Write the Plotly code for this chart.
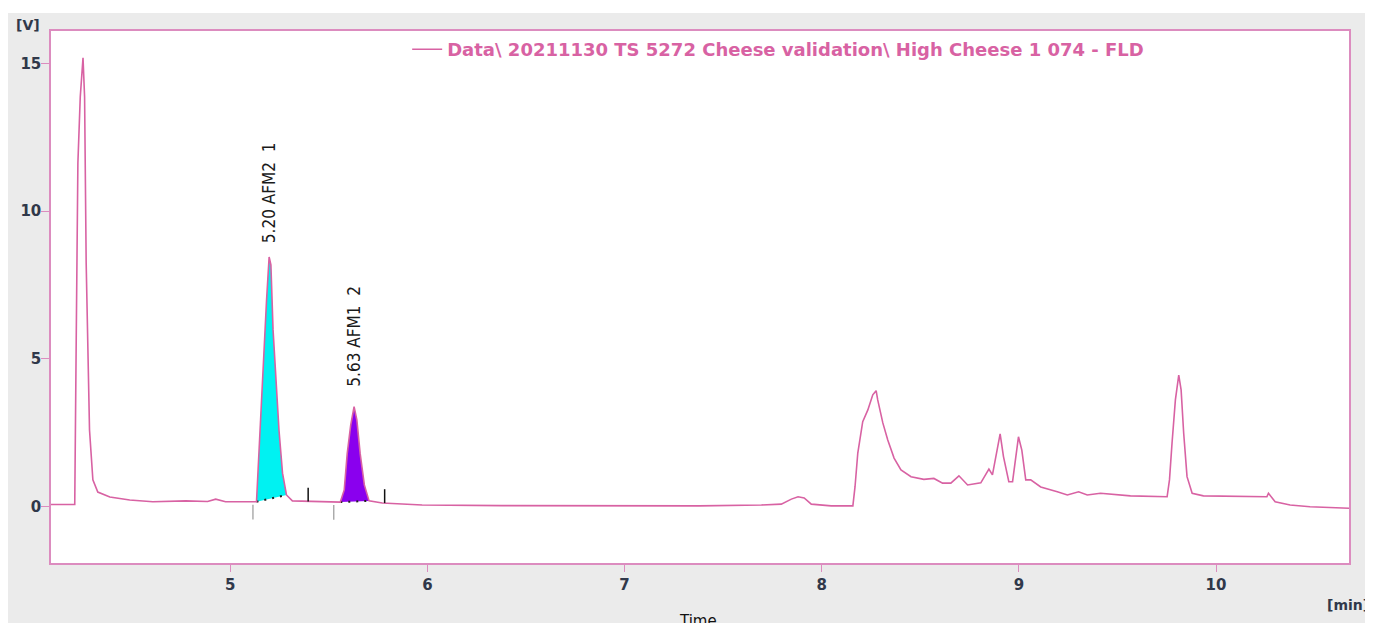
import plotly.graph_objects as go

# ---- data ----
time_min = [4.090, 4.211, 4.219, 4.227, 4.239, 4.253, 4.261, 4.269, 4.286, 4.303,
            4.328, 4.389, 4.490, 4.607, 4.774, 4.885, 4.926, 4.976, 5.133, 5.143,
            5.167, 5.184, 5.197, 5.206, 5.217, 5.229, 5.247, 5.265, 5.285, 5.315,
            5.467, 5.558, 5.578, 5.593, 5.611, 5.628, 5.642, 5.659, 5.680, 5.704,
            5.771, 5.973, 6.378, 6.884, 7.378, 7.694, 7.795, 7.846, 7.880, 7.911,
            7.947, 8.048, 8.158, 8.169, 8.183, 8.208, 8.234, 8.259, 8.276, 8.284,
            8.310, 8.335, 8.367, 8.402, 8.453, 8.518, 8.569, 8.613, 8.655, 8.696,
            8.740, 8.807, 8.848, 8.866, 8.905, 8.922, 8.949, 8.968, 8.998, 9.015,
            9.035, 9.060, 9.111, 9.195, 9.246, 9.303, 9.347, 9.414, 9.566, 9.752,
            9.764, 9.777, 9.794, 9.811, 9.823, 9.836, 9.853, 9.879, 9.936, 10.258,
            10.266, 10.300, 10.376, 10.477, 10.675]
signal_v = [0.07, 0.07, 5.98, 11.63, 13.87, 15.19, 13.87, 8.25, 2.59, 0.90,
            0.49, 0.32, 0.22, 0.16, 0.19, 0.17, 0.25, 0.16, 0.16, 1.57,
            4.52, 6.99, 8.45, 8.18, 5.98, 4.52, 2.59, 1.13, 0.39, 0.19,
            0.15, 0.15, 0.56, 1.78, 2.76, 3.38, 2.93, 1.78, 0.73, 0.19,
            0.12, 0.05, 0.03, 0.02, 0.02, 0.05, 0.08, 0.25, 0.33, 0.29,
            0.08, 0.02, 0.02, 0.67, 1.81, 2.87, 3.27, 3.78, 3.92, 3.61,
            2.83, 2.25, 1.64, 1.24, 1.01, 0.92, 0.95, 0.79, 0.79, 1.04,
            0.73, 0.80, 1.27, 1.07, 2.46, 1.69, 0.84, 0.84, 2.36, 1.91,
            0.90, 0.90, 0.66, 0.50, 0.39, 0.50, 0.39, 0.45, 0.36, 0.33,
            0.90, 2.15, 3.61, 4.45, 3.95, 2.49, 1.01, 0.45, 0.36, 0.33,
            0.45, 0.16, 0.05, -0.01, -0.06]

peak_rt = [5.20, 5.63]
peak_name = ["AFM2", "AFM1"]
peak_num = [1, 2]
peak_height = [8.45, 3.38]
peak_start = [5.133, 5.558]
peak_end = [5.285, 5.704]
start_marks = [5.115, 5.525]
end_marks = [5.395, 5.783]

x_ticks = [5, 6, 7, 8, 9, 10]
y_ticks = [0, 5, 10, 15]
series_name = "Data\\ 20211130 TS 5272 Cheese validation\\ High Cheese 1 074 - FLD"

# ---- styles ----
LINE = "#d862a3"
BORDER = "#dc8cbf"
TXT = "#30384a"
fills = ["#00f2f2", "#8a00ee"]
label_shift = [12, 18]

fig = go.Figure()


def baseline_at(t):
    for i in range(len(time_min) - 1):
        if time_min[i] <= t <= time_min[i + 1]:
            f = (t - time_min[i]) / (time_min[i + 1] - time_min[i])
            return signal_v[i] + f * (signal_v[i + 1] - signal_v[i])
    return 0.0


for k in range(len(peak_rt)):
    idx = [i for i, t in enumerate(time_min) if peak_start[k] <= t <= peak_end[k]]
    xs = [time_min[i] for i in idx]
    ys = [signal_v[i] for i in idx]
    fig.add_trace(go.Scatter(x=xs, y=ys, fill="toself", fillcolor=fills[k],
                             mode="lines", line=dict(width=0, color=fills[k]),
                             showlegend=False, hoverinfo="skip"))
    fig.add_trace(go.Scatter(x=[xs[0], xs[-1]], y=[ys[0], ys[-1]], mode="lines",
                             line=dict(color="#222222", width=2, dash="2px,6px"),
                             showlegend=False, hoverinfo="skip"))

fig.add_trace(go.Scatter(x=time_min, y=signal_v, mode="lines", name=series_name,
                         line=dict(color=LINE, width=1.6)))

# peak start / end markers
ex, ey = [], []
for t in end_marks:
    b = baseline_at(t)
    ex += [t, t, None]
    ey += [b, b + 0.47, None]
fig.add_trace(go.Scatter(x=ex, y=ey, mode="lines", line=dict(color="#111111", width=1.5),
                         showlegend=False, hoverinfo="skip"))
sx, sy = [], []
for t in start_marks:
    b = baseline_at(t)
    sx += [t, t, None]
    sy += [b - 0.1, b - 0.6, None]
fig.add_trace(go.Scatter(x=sx, y=sy, mode="lines", line=dict(color="#999999", width=1.2),
                         showlegend=False, hoverinfo="skip"))

annotations = []
for k in range(len(peak_rt)):
    annotations.append(dict(x=peak_rt[k], y=peak_height[k], xref="x", yref="y",
                            text=f"{peak_rt[k]:.2f} {peak_name[k]}\u00a0 {peak_num[k]}",
                            textangle=-90, showarrow=False, xanchor="center",
                            yanchor="bottom", yshift=label_shift[k],
                            font=dict(family="Liberation Sans Narrow, DejaVu Sans Condensed, Arial Narrow, sans-serif",
                                      size=17, color="#1a1a1a")))

annotations += [
    dict(x=-0.0177, y=1.0113, xref="paper", yref="paper", text="[V]", showarrow=False,
         xanchor="center", yanchor="middle", font=dict(family="DejaVu Sans", size=14, color=TXT, weight="bold")),
    dict(x=0.9992, y=-0.079, xref="paper", yref="paper", text="[min]", showarrow=False,
         xanchor="center", yanchor="middle", font=dict(family="DejaVu Sans", size=14, color=TXT, weight="bold")),
    dict(x=0.4988, y=-0.0883, xref="paper", yref="paper", text="Time", showarrow=False,
         xanchor="center", yanchor="top", font=dict(family="DejaVu Sans", size=15, color="#111111")),
]

# white strip above the grey panel (page body margin supplies the left/top 8px)
shapes = [
    dict(type="rect", xref="paper", yref="paper", x0=-0.05, x1=1.05, y0=1.0338, y1=1.05,
         fillcolor="white", line=dict(width=0), layer="above"),
]

fig.update_layout(
    width=1365, height=615,
    margin=dict(l=40, r=24, t=23, b=60),
    paper_bgcolor="#ebebeb",
    plot_bgcolor="white",
    showlegend=True,
    legend=dict(x=0.2744, y=1.0, xanchor="left", yanchor="top", bgcolor="rgba(0,0,0,0)",
                font=dict(family="DejaVu Sans", size=18, color=LINE, weight="bold"), itemwidth=30),
    annotations=annotations,
    shapes=shapes,
)
fig.update_xaxes(range=[4.0906, 10.6746], tickvals=x_ticks, ticks="outside", ticklen=7,
                 tickcolor=BORDER, showgrid=False, zeroline=False, showline=True,
                 linecolor=BORDER, linewidth=1.5, mirror=True,
                 tickfont=dict(family="DejaVu Sans", size=15, color=TXT, weight="bold"))
fig.update_yaxes(range=[-1.913, 16.10], tickvals=y_ticks, ticks="outside", ticklen=8,
                 tickcolor=BORDER, showgrid=False, zeroline=False, showline=True,
                 linecolor=BORDER, linewidth=1.5, mirror=True, ticklabelstandoff=-3,
                 tickfont=dict(family="DejaVu Sans", size=15, color=TXT, weight="bold"))

fig.write_html("out.html")
